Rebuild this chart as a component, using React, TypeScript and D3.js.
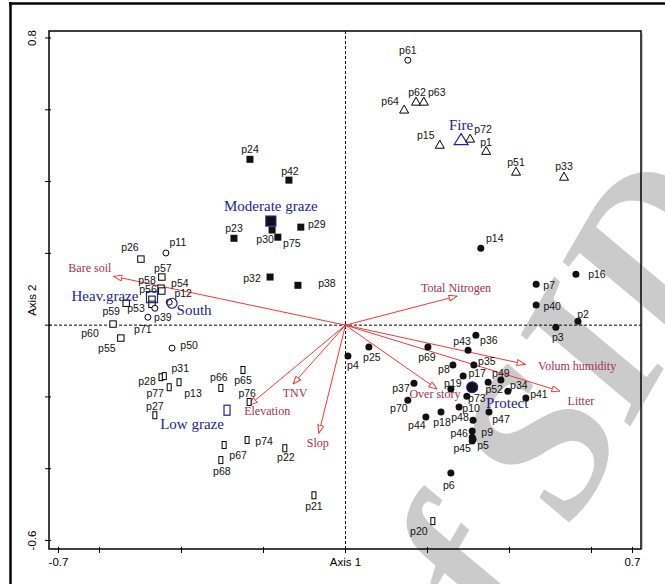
import * as d3 from 'd3'

type Site = [string, number, number]

// ordination scores (Axis 1, Axis 2)
const fireSites: Site[] = [
  ['p64', 0.143, 0.602], ['p62', 0.172, 0.624], ['p63', 0.191, 0.624],
  ['p15', 0.230, 0.504], ['p72', 0.304, 0.521], ['p1', 0.343, 0.487],
  ['p51', 0.416, 0.429], ['p33', 0.533, 0.415],
]
const moderateSites: Site[] = [
  ['p24', -0.233, 0.462], ['p42', -0.138, 0.404], ['p30', -0.179, 0.265],
  ['p75', -0.165, 0.245], ['p29', -0.109, 0.273], ['p23', -0.272, 0.242],
  ['p32', -0.184, 0.134], ['p38', -0.116, 0.111],
]
const heavySites: Site[] = [
  ['p26', -0.499, 0.184], ['p57', -0.448, 0.134], ['p58', -0.450, 0.103],
  ['p54', -0.448, 0.095], ['p56', -0.472, 0.072], ['p53', -0.472, 0.058],
  ['p59', -0.535, 0.061], ['p60', -0.567, 0.003], ['p55', -0.548, -0.036],
]
const southSites: Site[] = [
  ['p61', 0.152, 0.738], ['p11', -0.438, 0.201], ['p12', -0.430, 0.064],
  ['p39', -0.465, 0.047], ['p71', -0.482, 0.022], ['p50', -0.423, -0.064],
]
const lowSites: Site[] = [
  ['p28', -0.450, -0.145], ['p31', -0.442, -0.142], ['p77', -0.430, -0.173],
  ['p13', -0.406, -0.159], ['p27', -0.465, -0.251], ['p66', -0.304, -0.175],
  ['p65', -0.250, -0.125], ['p76', -0.235, -0.214], ['p74', -0.240, -0.320],
  ['p67', -0.296, -0.334], ['p68', -0.304, -0.376], ['p22', -0.148, -0.343],
  ['p21', -0.077, -0.474], ['p20', 0.213, -0.546],
]
const protectSites: Site[] = [
  ['p3', 0.513, -0.006], ['p2', 0.567, 0.011], ['p16', 0.562, 0.142],
  ['p7', 0.465, 0.114], ['p40', 0.465, 0.056], ['p14', 0.330, 0.214],
  ['p36', 0.318, -0.028], ['p43', 0.299, -0.070], ['p4', 0.006, -0.086],
  ['p25', 0.057, -0.061], ['p69', 0.201, -0.061], ['p35', 0.313, -0.111],
  ['p8', 0.262, -0.111], ['p17', 0.287, -0.142], ['p49', 0.379, -0.153],
  ['p19', 0.257, -0.178], ['p52', 0.348, -0.159], ['p34', 0.396, -0.184],
  ['p73', 0.296, -0.198], ['p37', 0.167, -0.162], ['p70', 0.152, -0.209],
  ['p41', 0.440, -0.203], ['p10', 0.277, -0.228], ['p47', 0.350, -0.242],
  ['p18', 0.233, -0.242], ['p44', 0.196, -0.256], ['p48', 0.311, -0.265],
  ['p46', 0.309, -0.295], ['p9', 0.309, -0.312], ['p45', 0.309, -0.323],
  ['p5', 0.311, -0.318], ['p6', 0.257, -0.412],
]

const groupCentroids: Site[] = [
  ['Fire', 0.282, 0.518], ['Moderate graze', -0.182, 0.290],
  ['Heav.graze', -0.472, 0.078], ['South', -0.423, 0.061],
  ['Low graze', -0.289, -0.237], ['Protect', 0.309, -0.173],
]

const envVectors: Site[] = [
  ['Bare soil', -0.565, 0.136], ['Total Nitrogen', 0.272, 0.081],
  ['Volum humidity', 0.438, -0.109], ['Litter', 0.523, -0.184],
  ['Over story', 0.223, -0.178], ['TNV', -0.128, -0.164],
  ['Elevation', -0.235, -0.223], ['Slop', -0.065, -0.301],
]

const xTicks = [-0.7, -0.6, -0.4, -0.2, 0, 0.2, 0.4, 0.6, 0.7]
const yTicks = [-0.6, -0.4, -0.2, 0, 0.2, 0.4, 0.6, 0.8]

// label placement (px offsets from the marker)
const labelOffsets: Record<string, [number, number]> = {
  p61: [0, -10], p64: [-14, -8], p62: [1, -9], p63: [13, -9], p15: [-14, -9],
  p72: [13, -9], p1: [0, -8], p51: [0, -9], p33: [0, -10],
  p24: [0, -10], p42: [1, -9], p29: [16, -3], p23: [0, -10], p30: [-7, 9],
  p75: [14, 6], p32: [-18, 1], p38: [29, -2],
  p26: [-11, -12], p11: [12, -11], p57: [1, -9], p58: [-14, -8], p54: [18, -8],
  p56: [-4, -10], p12: [14, -9], p59: [-15, 8], p53: [-16, 4], p39: [8, 9],
  p71: [-5, 12], p60: [-23, 9], p55: [-14, 10], p50: [17, -3],
  p28: [-14, 4], p31: [16, -8], p77: [-14, 6], p13: [14, 11], p27: [0, -9],
  p66: [-2, -11], p65: [0, 10], p76: [-2, -9], p74: [17, 1], p67: [14, 10],
  p68: [1, 11], p22: [1, 9], p21: [0, 11], p20: [-14, 10],
  p3: [2, 10], p2: [5, -7], p16: [21, 0], p7: [13, 1], p40: [16, 1],
  p14: [14, -10], p36: [13, 5], p43: [-6, -9], p4: [5, 9], p25: [3, 10],
  p69: [-1, 10], p35: [13, -4], p8: [-9, 4], p17: [14, -3], p49: [0, -7],
  p19: [2, -6], p52: [6, 7], p34: [11, -6], p73: [10, 2], p37: [-13, 5],
  p70: [-9, 8], p41: [13, -4], p10: [12, 1], p47: [12, 7], p18: [1, 10],
  p44: [-9, 8], p48: [-13, -3], p46: [-13, 2], p9: [15, -5], p45: [-10, 7],
  p5: [10, 6], p6: [-2, 12],
  'Fire': [0, -14], 'Moderate graze': [0, -15], 'Heav.graze': [-47, -1],
  'South': [22, 7], 'Low graze': [-35, 14], 'Protect': [35, 16],
  'Bare soil': [-24, -8], 'Total Nitrogen': [-1, -8], 'Volum humidity': [52, 2],
  'Litter': [21, 10], 'Over story': [-2, 5], 'TNV': [2, 9], 'Elevation': [18, 6],
  'Slop': [-1, 10],
}

const SANS = 'Liberation Sans, Arial, sans-serif'
const SERIF = 'Liberation Serif, Times New Roman, serif'
const BLUE = '#23238f'
const VEC = '#f03a3a'
const VEC_TEXT = '#a03050'

export default function App() {
  const W = 665
  const H = 584
  const plot = { left: 49, right: 641, top: 31, bottom: 549 }
  const x = d3.scaleLinear().domain([-0.7, 0.7]).range([58.5, 632.5])
  const y = d3.scaleLinear().domain([-0.6, 0.8]).range([540.5, 38])
  const x0 = x(0)
  const y0 = y(0)

  const label = (name: string, px: number, py: number) => {
    const [dx, dy] = labelOffsets[name] || [0, -10]
    return (
      <text key={'l' + name} x={px + dx} y={py + dy} fontSize={10.5} fontFamily={SANS}
        textAnchor="middle" dominantBaseline="central" fill="#111">{name}</text>
    )
  }

  const tri = (cx: number, cy: number, w: number, h: number) =>
    `M${cx - w / 2},${cy + h / 2} L${cx},${cy - h / 2} L${cx + w / 2},${cy + h / 2} Z`

  return (
    <svg width={W} height={H} style={{ position: 'absolute', left: 0, top: 0, background: '#fff' }}>
      <defs>
        <marker id="arr" viewBox="0 0 9 7" refX={8.5} refY={3.5} markerWidth={9} markerHeight={7}
          orient="auto" markerUnits="userSpaceOnUse">
          <path d="M0.5,0.5 L8.5,3.5 L0.5,6.5 Z" fill="#fff" stroke={VEC} strokeWidth={1} />
        </marker>
      </defs>

      {/* watermark */}
      <text x={0} y={0} transform="translate(455,730) rotate(-60)" fontSize={215}
        fontFamily={SERIF} fontWeight="bold" fontStyle="italic" fill="#cbcbcb">of SID</text>

      {/* outer frame */}
      <line x1={9} x2={W} y1={3.5} y2={3.5} stroke="#000" strokeWidth={2.5} />
      <line x1={10.5} x2={10.5} y1={2} y2={H} stroke="#000" strokeWidth={2.5} />

      {/* plot frame */}
      <rect x={plot.left} y={plot.top} width={plot.right - plot.left} height={plot.bottom - plot.top}
        fill="none" stroke="#000" strokeWidth={1.5} />
      <line x1={plot.right + 1.5} x2={plot.right + 1.5} y1={plot.top + 2} y2={plot.bottom} stroke="#ccc" strokeWidth={1} />

      {/* zero lines */}
      <line x1={x0} x2={x0} y1={plot.top} y2={plot.bottom} stroke="#000" strokeWidth={1} strokeDasharray="3,2" />
      <line x1={plot.left} x2={plot.right} y1={y0} y2={y0} stroke="#000" strokeWidth={1} strokeDasharray="3,2" />

      {/* ticks */}
      {xTicks.map(t => (
        <line key={'xt' + t} x1={x(t)} x2={x(t)} y1={plot.bottom - 2} y2={plot.bottom + 4} stroke="#000" strokeWidth={1} />
      ))}
      {yTicks.map(t => (
        <line key={'yt' + t} x1={plot.left - 4} x2={plot.left + 2} y1={y(t)} y2={y(t)} stroke="#000" strokeWidth={1} />
      ))}

      {/* axis labels */}
      <text x={x(-0.7)} y={566} fontSize={11.5} fontFamily={SANS} textAnchor="middle">-0.7</text>
      <text x={x(0.7)} y={566} fontSize={11.5} fontFamily={SANS} textAnchor="middle">0.7</text>
      <text x={x0} y={566} fontSize={11.5} fontFamily={SANS} textAnchor="middle">Axis 1</text>
      <text transform={`translate(36,${y(0.8)}) rotate(-90)`} fontSize={11.5} fontFamily={SANS} textAnchor="middle">0.8</text>
      <text transform={`translate(36,${y(-0.6)}) rotate(-90)`} fontSize={11.5} fontFamily={SANS} textAnchor="middle">-0.6</text>
      <text transform={`translate(36,${y0 - 25}) rotate(-90)`} fontSize={11.5} fontFamily={SANS} textAnchor="middle">Axis 2</text>

      {/* environmental vectors */}
      {envVectors.map(([n, vx, vy]) => (
        <line key={'v' + n} x1={x0} y1={y0} x2={x(vx)} y2={y(vy)} stroke={VEC} strokeWidth={1} markerEnd="url(#arr)" />
      ))}
      {envVectors.map(([n, vx, vy]) => {
        const [dx, dy] = labelOffsets[n]
        return (
          <text key={'vt' + n} x={x(vx) + dx} y={y(vy) + dy} fontSize={12} fontFamily={SERIF}
            textAnchor="middle" dominantBaseline="central" fill={VEC_TEXT}>{n}</text>
        )
      })}

      {/* sites */}
      {fireSites.map(([n, sx, sy]) => (
        <path key={n} d={tri(x(sx), y(sy), 9, 8)} fill="#fff" stroke="#000" strokeWidth={1} />
      ))}
      {moderateSites.map(([n, sx, sy]) => (
        <rect key={n} x={x(sx) - 3.5} y={y(sy) - 3.5} width={7} height={7} fill="#111" />
      ))}
      {heavySites.map(([n, sx, sy]) => (
        <rect key={n} x={x(sx) - 3.2} y={y(sy) - 3.2} width={6.4} height={6.4} fill="#fff" stroke="#000" strokeWidth={1} />
      ))}
      {southSites.map(([n, sx, sy]) => (
        <circle key={n} cx={x(sx)} cy={y(sy)} r={3} fill="#fff" stroke="#000" strokeWidth={1} />
      ))}
      {lowSites.map(([n, sx, sy]) => (
        <rect key={n} x={x(sx) - 2} y={y(sy) - 3.5} width={4} height={7} fill="#fff" stroke="#000" strokeWidth={1} />
      ))}
      {protectSites.map(([n, sx, sy]) => (
        <circle key={n} cx={x(sx)} cy={y(sy)} r={3.5} fill="#111" />
      ))}

      {/* group centroids */}
      {groupCentroids.map(([n, gx, gy]) => {
        const cx = x(gx)
        const cy = y(gy)
        if (n === 'Fire') return <path key={n} d={tri(cx, cy, 14, 11)} fill="none" stroke={BLUE} strokeWidth={1.2} />
        if (n === 'Moderate graze') return <rect key={n} x={cx - 5} y={cy - 5} width={10} height={10} fill="#111" stroke={BLUE} strokeWidth={1.2} />
        if (n === 'Heav.graze') return <rect key={n} x={cx - 5.5} y={cy - 5.5} width={11} height={11} fill="none" stroke={BLUE} strokeWidth={1.2} />
        if (n === 'South') return <circle key={n} cx={cx} cy={cy} r={5} fill="none" stroke={BLUE} strokeWidth={1.2} />
        if (n === 'Low graze') return <rect key={n} x={cx - 3} y={cy - 5} width={6} height={10} fill="none" stroke={BLUE} strokeWidth={1.2} />
        return <circle key={n} cx={cx} cy={cy} r={5.5} fill="#111" stroke={BLUE} strokeWidth={1.2} />
      })}

      {/* site labels */}
      {[...fireSites, ...moderateSites, ...heavySites, ...southSites, ...lowSites, ...protectSites]
        .map(([n, sx, sy]) => label(n, x(sx), y(sy)))}

      {/* group labels */}
      {groupCentroids.map(([n, gx, gy]) => {
        const [dx, dy] = labelOffsets[n]
        return (
          <text key={'g' + n} x={x(gx) + dx} y={y(gy) + dy} fontSize={15} fontFamily={SERIF}
            textAnchor="middle" dominantBaseline="central" fill={BLUE}>{n}</text>
        )
      })}
    </svg>
  )
}
